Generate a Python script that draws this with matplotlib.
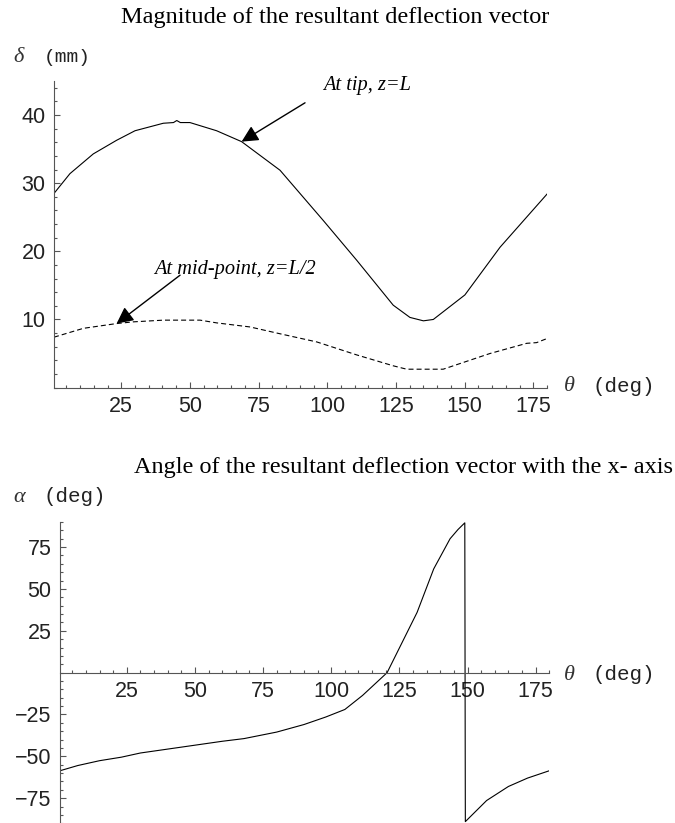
import matplotlib
matplotlib.use("Agg")
import matplotlib.pyplot as plt
from matplotlib.ticker import MultipleLocator, FixedLocator

# --- data ---
theta_tip = [0.5, 6.3, 14.8, 23.3, 30, 40.3, 44, 45.2, 46.5, 50, 59.7, 68.8, 82.8,
             98.6, 110.7, 124, 130.1, 135, 138.6, 150.1, 162.9, 180]
delta_tip = [28.5, 31.4, 34.3, 36.3, 37.7, 38.8, 38.9, 39.2, 38.9, 38.9, 37.7, 36.1, 31.9,
             24.5, 18.7, 12.1, 10.3, 9.8, 10.0, 13.6, 20.6, 28.4]

theta_mid = [0.5, 11.2, 23.3, 29.4, 40.3, 53.7, 59.7, 71.9, 82.8, 96.2, 110.7, 124,
             128.9, 142.2, 159.2, 172.6, 176.2, 180]
delta_mid = [7.4, 8.7, 9.4, 9.65, 9.9, 9.9, 9.5, 8.9, 7.9, 6.7, 4.8, 3.2,
             2.7, 2.7, 5.0, 6.5, 6.6, 7.2]

theta_ang = [0.5, 7, 15, 23, 30, 45, 60, 68, 80, 90, 98, 105, 111.5, 120.5,
             126, 131.5, 137.6, 143.6, 146.5, 149, 149.2, 157, 165, 172, 180]
alpha_ang = [-58.6, -55.5, -52.6, -50.5, -48, -44.5, -41, -39.4, -35.5, -31, -26.5, -22, -13.6, 0,
             18, 36, 62, 80, 85.5, 89.5, -89, -76.4, -68, -63, -58.6]

x_ticks = [25, 50, 75, 100, 125, 150, 175]
y_ticks_top = [10, 20, 30, 40]
y_ticks_bot = [-75, -50, -25, 25, 50, 75]

W, H = 675, 823
plt.rcParams['lines.scale_dashes'] = False
fig = plt.figure(figsize=(W / 100, H / 100), dpi=100)

axis_col = '#555555'
tick_font = dict(family='Liberation Sans', size=15.5)


def style_axes(ax, yminor):
    for s in ['top', 'right']:
        ax.spines[s].set_visible(False)
    for s in ['left', 'bottom']:
        ax.spines[s].set_color(axis_col)
        ax.spines[s].set_linewidth(0.8)
    ax.xaxis.set_major_locator(FixedLocator(x_ticks))
    ax.xaxis.set_minor_locator(MultipleLocator(5))
    ax.yaxis.set_minor_locator(MultipleLocator(yminor))
    ax.tick_params(which='both', direction='in', color=axis_col, width=0.8,
                   labelcolor='#222222')
    ax.tick_params(which='major', length=4, pad=6)
    ax.tick_params(which='minor', length=2)
    for lab in ax.get_xticklabels() + ax.get_yticklabels():
        lab.set_fontfamily(tick_font['family'])
        lab.set_fontsize(tick_font['size'])


def px(x, y):
    return x / W, 1 - y / H


# ---------- top panel ----------
ax1 = fig.add_axes([54 / W, (H - 387.6) / H, (547 - 54) / W, (387.6 - 81) / H])
ax1.plot(theta_tip, delta_tip, color='black', lw=0.8)
ax1.plot(theta_mid, delta_mid, color='black', lw=0.8, dashes=(3.6, 2.2))
ax1.set_xlim(0.5, 180)
ax1.set_ylim(0, 45)
ax1.yaxis.set_major_locator(FixedLocator(y_ticks_top))
style_axes(ax1, 2)

ax1.annotate('', xy=(68.8, 36.1), xytext=(91.9, 41.8),
             arrowprops=dict(arrowstyle='-|>', color='black', lw=1.0,
                             mutation_scale=25, shrinkA=0, shrinkB=0))
ax1.text(98.3, 44.4, 'At tip, z=L', family='Liberation Serif', style='italic',
         size=14.7, ha='left', va='center')
ax1.annotate('', xy=(23.3, 9.4), xytext=(46.4, 16.5),
             arrowprops=dict(arrowstyle='-|>', color='black', lw=1.0,
                             mutation_scale=25, shrinkA=0, shrinkB=0))
ax1.text(36.9, 17.3, 'At mid-point, z=L/2', family='Liberation Serif', style='italic',
         size=14.7, ha='left', va='center')

fig.text(*px(335, 17), 'Magnitude of the resultant deflection vector',
         family='Liberation Serif', size=17.5, ha='center', va='center')
fig.text(*px(13, 57), 'δ', family='Liberation Serif', style='italic', size=16,
         ha='left', va='center', color='#333333')
fig.text(*px(44, 57), '(mm)', family='Liberation Mono', size=14,
         ha='left', va='center', color='#222222')
fig.text(*px(564, 387), 'θ', family='Liberation Serif', style='italic', size=16,
         ha='left', va='center', color='#333333')
fig.text(*px(592, 387), '(deg)', family='Liberation Mono', size=15,
         ha='left', va='center', color='#222222')

# ---------- bottom panel ----------
ax2 = fig.add_axes([60 / W, (H - 823.3) / H, (549.3 - 60) / W, (823.3 - 522) / H])
ax2.plot(theta_ang, alpha_ang, color='black', lw=0.8)
ax2.set_xlim(0.5, 180)
ax2.set_ylim(-90, 90)
ax2.spines['bottom'].set_position(('data', 0))
ax2.yaxis.set_major_locator(FixedLocator(y_ticks_bot))
style_axes(ax2, 5)

fig.text(*px(403, 468), 'Angle of the resultant deflection vector with the x- axis',
         family='Liberation Serif', size=17.5, ha='center', va='center')
fig.text(*px(13, 497), 'α', family='Liberation Serif', style='italic', size=16,
         ha='left', va='center', color='#333333')
fig.text(*px(44, 497), '(deg)', family='Liberation Mono', size=15,
         ha='left', va='center', color='#222222')
fig.text(*px(564, 675), 'θ', family='Liberation Serif', style='italic', size=16,
         ha='left', va='center', color='#333333')
fig.text(*px(592, 675), '(deg)', family='Liberation Mono', size=15,
         ha='left', va='center', color='#222222')

fig.savefig('out.png', dpi=100)
